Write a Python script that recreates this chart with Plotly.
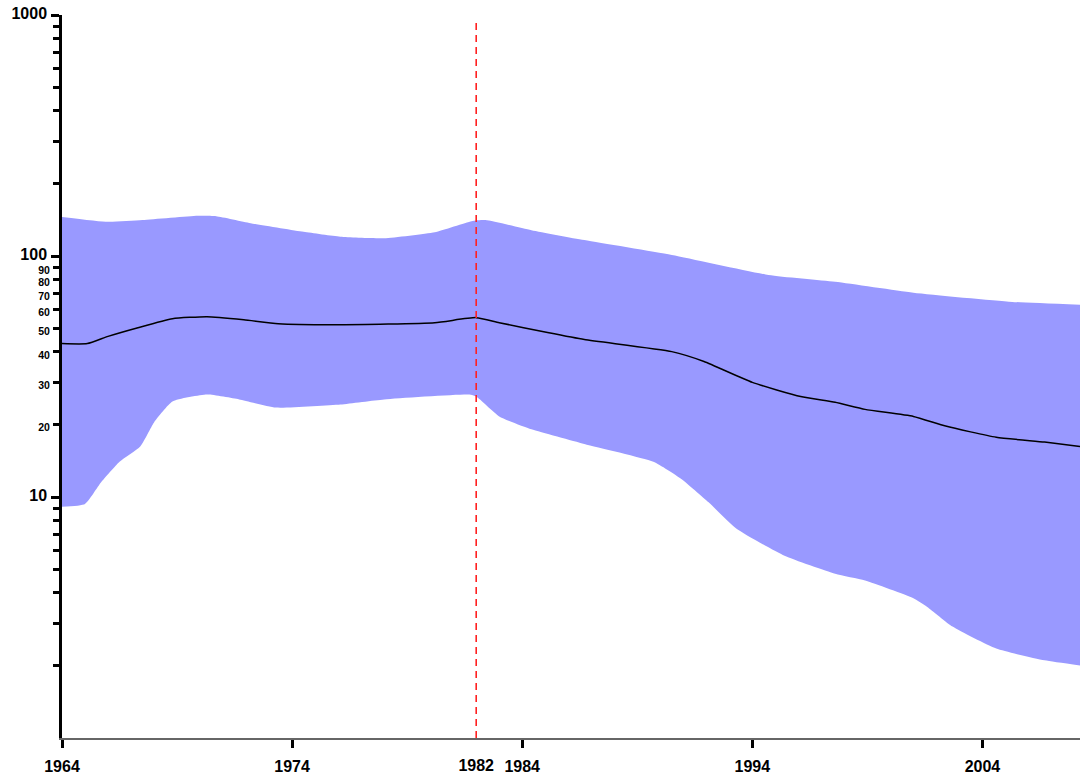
import plotly.graph_objects as go

# Upper confidence bound
upper_year = [1964.0, 1966.0, 1967.5, 1969.9, 1970.7, 1972.2, 1974.5, 1976.1, 1978.0,
              1980.2, 1981.8, 1982.4, 1984.4, 1986.7, 1990.5, 1994.7, 1997.6, 2001.0,
              2005.3, 2008.24]
upper_val = [145.3, 138.6, 140.9, 146.8, 146.3, 136.9, 126.0, 120.2, 118.6,
             125.6, 139.5, 140.9, 128.0, 116.4, 100.9, 83.4, 78.1, 70.4,
             64.5, 62.8]

# Central estimate
mid_year = [1964.0, 1965.1, 1966.0, 1967.3, 1968.8, 1970.3, 1971.9, 1973.4, 1976.1,
            1980.2, 1982.0, 1983.0, 1985.1, 1986.7, 1990.5, 1991.9, 1994.0, 1996.1,
            1997.6, 1998.9, 2001.0, 2002.4, 2004.6, 2006.7, 2008.24]
mid_val = [43.3, 43.3, 46.4, 50.4, 54.9, 56.0, 54.4, 52.4, 51.9,
           52.9, 55.5, 52.9, 48.1, 45.0, 40.1, 36.5, 29.9, 26.1,
           24.7, 23.1, 21.6, 19.7, 17.7, 16.9, 16.2]

# Lower confidence bound
lower_year = [1964.0, 1965.0, 1965.7, 1966.5, 1967.4, 1968.0, 1968.8, 1970.3, 1971.7,
              1973.3, 1976.1, 1978.0, 1981.7, 1982.0, 1983.0, 1984.4, 1986.7, 1989.7,
              1990.9, 1992.1, 1993.3, 1995.4, 1997.6, 1998.9, 2001.0, 2001.6, 2002.7,
              2004.6, 2006.7, 2008.24]
lower_val = [9.1, 9.35, 11.5, 14.0, 16.2, 20.4, 24.9, 26.6, 25.4,
             23.5, 24.2, 25.4, 26.6, 26.1, 21.6, 19.1, 16.6, 14.0,
             11.9, 9.5, 7.4, 5.7, 4.8, 4.5, 3.8, 3.5, 2.9,
             2.35, 2.1, 2.0]

x_ticks = [1964, 1974, 1984, 1994, 2004]
x_marker_year = 1982

y_major = [10, 100, 1000]
y_minor = [2, 3, 4, 5, 6, 7, 8, 9,
           20, 30, 40, 50, 60, 70, 80, 90,
           200, 300, 400, 500, 600, 700, 800, 900]
y_minor_text = ["" if v < 10 or v > 100 else str(v) for v in y_minor]

BAND = "rgb(153,153,255)"
FONT = "Arial, Liberation Sans, sans-serif"

fig = go.Figure()

# Lower bound (invisible edge) followed by the upper bound filled down to it
fig.add_trace(go.Scatter(
    x=lower_year, y=lower_val, mode="lines",
    line=dict(width=0, color=BAND, shape="spline", smoothing=0.5),
    hoverinfo="skip", showlegend=False,
))
fig.add_trace(go.Scatter(
    x=upper_year, y=upper_val, mode="lines",
    fill="tonexty", fillcolor=BAND,
    line=dict(width=0, color=BAND, shape="spline", smoothing=0.5),
    hoverinfo="skip", showlegend=False,
))

# Central line, drawn on the overlay axes so it sits above the band
fig.add_trace(go.Scatter(
    x=mid_year, y=mid_val, mode="lines",
    line=dict(color="black", width=1.5, shape="spline", smoothing=0.5),
    xaxis="x2", yaxis="y2", showlegend=False,
))

x_range = [1964, max(upper_year)]

fig.update_layout(
    width=1080, height=775,
    margin=dict(l=62, r=0, t=15, b=34),
    paper_bgcolor="white", plot_bgcolor="white",
    showlegend=False,
    xaxis=dict(
        range=x_range, showgrid=False, zeroline=False,
        showline=True, linecolor="#666666", linewidth=2,
        tickmode="array", tickvals=x_ticks, ticktext=[str(v) for v in x_ticks],
        ticks="outside", ticklen=8, tickwidth=3, tickcolor="black",
        tickfont=dict(family=FONT, size=16, color="black", weight="bold"),
        ticklabelstandoff=5,
    ),
    xaxis2=dict(
        overlaying="x", matches="x", range=x_range, showgrid=False, zeroline=False,
        showline=False, side="bottom",
        tickmode="array", tickvals=[x_marker_year], ticktext=[str(x_marker_year)],
        ticks="outside", ticklen=8, tickwidth=3, tickcolor="rgba(0,0,0,0)",
        tickfont=dict(family=FONT, size=16, color="black", weight="bold"),
        ticklabelstandoff=5,
    ),
    yaxis=dict(
        type="log", range=[0, 3], showgrid=False, zeroline=False,
        showline=True, linecolor="black", linewidth=2.5,
        tickmode="array", tickvals=y_major, ticktext=[str(v) for v in y_major],
        ticks="outside", ticklen=8, tickwidth=3, tickcolor="black",
        tickfont=dict(family=FONT, size=16, color="black", weight="bold"),
        ticklabelstandoff=1, ticklabelshift=-2,
    ),
    yaxis2=dict(
        type="log", range=[0, 3], overlaying="y", side="left",
        showgrid=False, zeroline=False, showline=False,
        tickmode="array", tickvals=y_minor, ticktext=y_minor_text,
        ticks="outside", ticklen=8, tickwidth=3, tickcolor="black",
        tickfont=dict(family=FONT, size=10.5, color="black", weight="bold"),
        ticklabelstandoff=1, ticklabelshift=3,
    ),
)

# Dashed vertical marker at the change year
fig.add_shape(
    type="line", xref="x", yref="paper",
    x0=x_marker_year, x1=x_marker_year, y0=0, y1=0.99,
    line=dict(color="#ff2020", width=1.6, dash="7px,5px"),
    layer="above",
)

fig.write_html("out.html")
